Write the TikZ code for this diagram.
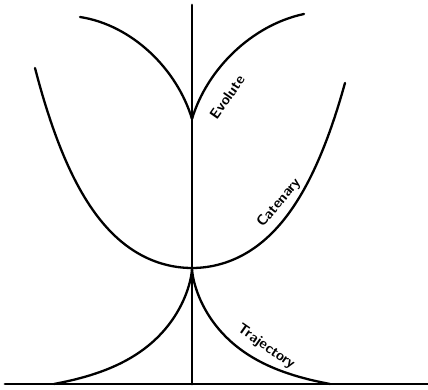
\documentclass[tikz,border=0pt]{standalone}
\begin{document}
\begin{tikzpicture}[x=1pt,y=1pt,line cap=round]
  \tikzset{curve/.style={line width=2.3pt},
    axis/.style={line width=2.7pt},
    lbl/.style={font=\sffamily\bfseries\fontsize{14.5}{16}\selectfont, inner sep=1pt}}
  \useasboundingbox (0,0) rectangle (428,390);
  \coordinate (top) at (192,385);
  \coordinate (foot) at (192,6);
  \coordinate (west) at (5,6);
  \coordinate (east) at (430,6);
  \coordinate (cusp) at (192,271);
  \coordinate (evoR) at (304,376);
  \coordinate (evoL) at (80,373);
  \draw[axis] (west) -- (east);
  \draw[axis] (top) -- (foot);
  % catenary
  \draw[curve] plot[domain=-157:153, samples=120] ({192+\x}, {122+34*(cosh(\x/60)-1)});
  % evolute
  \draw[curve] (cusp) .. controls +(15,50) and +(-52,-11) .. (evoR);
  \draw[curve] (cusp) .. controls +(-15,50) and +(52,-8) .. (evoL);
  % trajectory
  \draw[curve] plot[domain=0:3.3, samples=90] ({192+60*(\x-tanh(\x))}, {6+116/cosh(\x)-2.59*\x});
  \draw[curve] plot[domain=0:3.3, samples=90] ({192-60*(\x-tanh(\x))}, {6+116/cosh(\x)-2.59*\x});
  \node[lbl, rotate=55] (evolbl) at (227,293) {Evolute};
  \node[lbl, rotate=50] (catlbl) at (279,187) {Catenary};
  \node[lbl, rotate=-35] (trajlbl) at (266,43) {Trajectory};
\end{tikzpicture}
\end{document}
